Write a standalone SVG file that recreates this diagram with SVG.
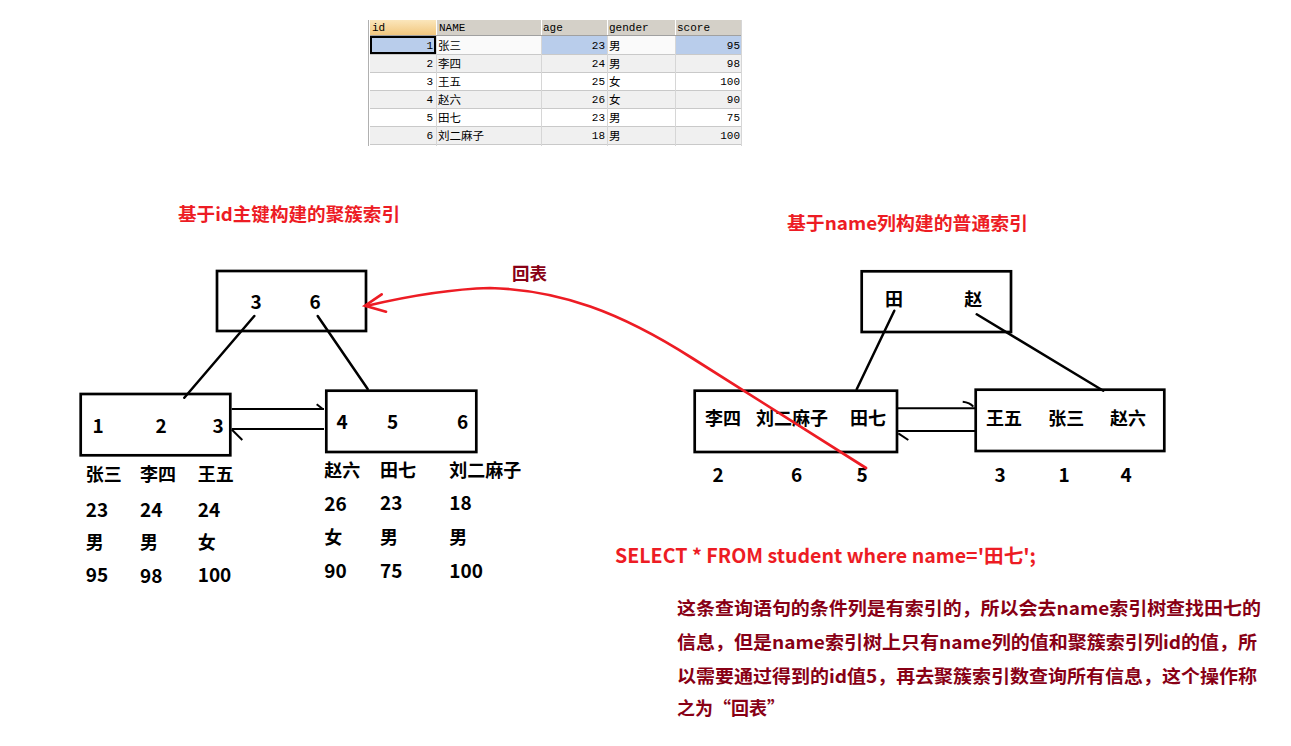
<svg xmlns="http://www.w3.org/2000/svg" width="1291" height="746" viewBox="0 0 1291 746">
<defs>
<linearGradient id="hdrSel" x1="0" y1="0" x2="0" y2="1">
<stop offset="0" stop-color="#fbe6bb"/>
<stop offset="1" stop-color="#f1c57a"/>
</linearGradient>
</defs>
<style>
.box{fill:none;stroke:#000;stroke-width:2.7}
.ln{stroke:#000;stroke-width:2.5;fill:none;stroke-linecap:round}
.ar{stroke:#000;stroke-width:2;fill:none}
.t{font-family:"Noto Sans CJK SC","Noto Sans",sans-serif;font-weight:700;font-size:18px;fill:#000}
.n{font-size:19px}
.red{fill:#ed1c24}
.dred{fill:#880015}
.rl{stroke:#ed1c24;stroke-width:2.7;fill:none;stroke-linecap:round}
.tb{font-family:"Liberation Mono","Noto Sans CJK SC",monospace;font-size:11px;fill:#000}
.tc{font-family:"Noto Sans CJK SC",sans-serif;font-size:11.5px;fill:#000}
.hd{fill:#d4d0c8}
.g{stroke:#c9c9c9;stroke-width:1}
.gv{stroke:#d6d6d6;stroke-width:1}
.alt{fill:#f0f0f0}
.sel{fill:#b9cdeb}
</style>
<rect width="1291" height="746" fill="#fff"/>

<g id="table">
<rect x="370" y="20" width="371" height="16" class="hd"/>
<rect x="370" y="20" width="66" height="16" fill="url(#hdrSel)"/>
<line x1="436.5" y1="20" x2="436.5" y2="36" stroke="#fff"/>
<line x1="541.5" y1="20" x2="541.5" y2="36" stroke="#fff"/>
<line x1="607.5" y1="20" x2="607.5" y2="36" stroke="#fff"/>
<line x1="675.5" y1="20" x2="675.5" y2="36" stroke="#fff"/>
<line x1="370" y1="35.5" x2="741" y2="35.5" stroke="#a0a0a0"/>
<rect x="370" y="36" width="371" height="18" fill="#fafafa"/>
<rect x="370" y="36" width="66" height="18" class="sel"/>
<rect x="541" y="36" width="66" height="18" class="sel"/>
<rect x="675" y="36" width="66" height="18" class="sel"/>
<rect x="370" y="54" width="371" height="18" class="alt"/>
<rect x="370" y="72" width="371" height="18" fill="#fff"/>
<rect x="370" y="90" width="371" height="18" class="alt"/>
<rect x="370" y="108" width="371" height="18" fill="#fff"/>
<rect x="370" y="126" width="371" height="18" class="alt"/>
<line x1="370" y1="54.5" x2="741" y2="54.5" class="g"/>
<line x1="370" y1="72.5" x2="741" y2="72.5" class="g"/>
<line x1="370" y1="90.5" x2="741" y2="90.5" class="g"/>
<line x1="370" y1="108.5" x2="741" y2="108.5" class="g"/>
<line x1="370" y1="126.5" x2="741" y2="126.5" class="g"/>
<line x1="370" y1="144.5" x2="741" y2="144.5" class="g"/>
<line x1="436.5" y1="36" x2="436.5" y2="146" class="gv"/>
<line x1="541.5" y1="36" x2="541.5" y2="146" class="gv"/>
<line x1="607.5" y1="36" x2="607.5" y2="146" class="gv"/>
<line x1="675.5" y1="36" x2="675.5" y2="146" class="gv"/>
<line x1="741.5" y1="20" x2="741.5" y2="146" class="gv"/>
<line x1="368.5" y1="20" x2="368.5" y2="146" stroke="#b0b0b0"/>
<rect x="371" y="37" width="64" height="16" fill="none" stroke="#000" stroke-width="2"/>
<text class="tb" x="372" y="31">id</text>
<text class="tb" x="439" y="31">NAME</text>
<text class="tb" x="543" y="31">age</text>
<text class="tb" x="609" y="31">gender</text>
<text class="tb" x="677" y="31">score</text>
<g text-anchor="end" class="tb">
<text x="433" y="49">1</text><text x="433" y="67">2</text><text x="433" y="85">3</text><text x="433" y="103">4</text><text x="433" y="121">5</text><text x="433" y="139">6</text>
<text x="605" y="49">23</text><text x="605" y="67">24</text><text x="605" y="85">25</text><text x="605" y="103">26</text><text x="605" y="121">23</text><text x="605" y="139">18</text>
<text x="740" y="49">95</text><text x="740" y="67">98</text><text x="740" y="85">100</text><text x="740" y="103">90</text><text x="740" y="121">75</text><text x="740" y="139">100</text>
</g>
<g class="tc">
<text x="438" y="49.5">张三</text><text x="438" y="67.5">李四</text><text x="438" y="85.5">王五</text><text x="438" y="103.5">赵六</text><text x="438" y="121.5">田七</text><text x="438" y="139.5">刘二麻子</text>
<text x="609" y="49.5">男</text><text x="609" y="67.5">男</text><text x="609" y="85.5">女</text><text x="609" y="103.5">女</text><text x="609" y="121.5">男</text><text x="609" y="139.5">男</text>
</g>
</g>

<g id="titles">
<text class="t red" x="178" y="221" textLength="222" lengthAdjust="spacingAndGlyphs">基于id主键构建的聚簇索引</text>
<text class="t red" x="787" y="230" textLength="241" lengthAdjust="spacingAndGlyphs">基于name列构建的普通索引</text>
</g>

<g id="l-root">
<rect class="box" x="217" y="271" width="149" height="60"/>
<text class="t n" x="256" y="308.5" text-anchor="middle">3</text>
<text class="t n" x="315" y="308.5" text-anchor="middle">6</text>
</g>
<g id="l-leaf1">
<rect class="box" x="80.7" y="394" width="149.6" height="61.3"/>
<text class="t n" x="98" y="432.5" text-anchor="middle">1</text>
<text class="t n" x="161" y="432.5" text-anchor="middle">2</text>
<text class="t n" x="218" y="432.5" text-anchor="middle">3</text>
<text class="t" x="85.7" y="481">张三</text><text class="t" x="140" y="481">李四</text><text class="t" x="197.7" y="481">王五</text>
<text class="t n" x="85.7" y="516.5">23</text><text class="t n" x="140" y="516.5">24</text><text class="t n" x="197.7" y="516.5">24</text>
<text class="t" x="85.7" y="549">男</text><text class="t" x="140" y="549">男</text><text class="t" x="197.7" y="549">女</text>
<text class="t n" x="85.7" y="582">95</text><text class="t n" x="140" y="583">98</text><text class="t n" x="197.7" y="582">100</text>
</g>
<g id="l-leaf2">
<rect class="box" x="326.3" y="390.7" width="150" height="61.3"/>
<text class="t n" x="342" y="428.5" text-anchor="middle">4</text>
<text class="t n" x="392.7" y="428.5" text-anchor="middle">5</text>
<text class="t n" x="462.7" y="428.5" text-anchor="middle">6</text>
<text class="t" x="324.3" y="476.5">赵六</text><text class="t" x="380" y="476.5">田七</text><text class="t" x="449.3" y="476.5">刘二麻子</text>
<text class="t n" x="324.3" y="510.5">26</text><text class="t n" x="380" y="510">23</text><text class="t n" x="449.3" y="510">18</text>
<text class="t" x="324.3" y="544">女</text><text class="t" x="380" y="544">男</text><text class="t" x="449.3" y="544">男</text>
<text class="t n" x="324.3" y="578">90</text><text class="t n" x="380" y="577.5">75</text><text class="t n" x="449.3" y="577.5">100</text>
</g>

<g id="r-root">
<rect class="box" x="861.7" y="271.3" width="149.3" height="60.7"/>
<text class="t" x="894" y="306" text-anchor="middle">田</text>
<text class="t" x="973.3" y="306" text-anchor="middle">赵</text>
</g>
<g id="r-leaf1">
<rect class="box" x="694.7" y="390.7" width="202.3" height="61.3"/>
<text class="t" x="705" y="425">李四</text>
<text class="t" x="756" y="425">刘二麻子</text>
<text class="t" x="850" y="425">田七</text>
<text class="t n" x="718" y="481.5" text-anchor="middle">2</text>
<text class="t n" x="796.7" y="481.5" text-anchor="middle">6</text>
<text class="t n" x="862" y="481.5" text-anchor="middle">5</text>
</g>
<g id="r-leaf2">
<rect class="box" x="975.7" y="389.7" width="188.6" height="61.3"/>
<text class="t" x="986" y="425">王五</text>
<text class="t" x="1048.3" y="425">张三</text>
<text class="t" x="1110" y="425">赵六</text>
<text class="t n" x="1000" y="481.5" text-anchor="middle">3</text>
<text class="t n" x="1064" y="481.5" text-anchor="middle">1</text>
<text class="t n" x="1126" y="481.5" text-anchor="middle">4</text>
</g>

<g id="connectors">
<line class="ln" x1="254.3" y1="316" x2="184.3" y2="397.7"/>
<line class="ln" x1="317.7" y1="316" x2="367.7" y2="389"/>
<line class="ar" x1="231.7" y1="409" x2="324" y2="409"/>
<path class="ar" d="M316.7 404.3 L322.7 409"/>
<line class="ar" x1="324" y1="429" x2="231.7" y2="429"/>
<path class="ar" d="M231.7 429.5 L242.3 440"/>
<line class="ln" x1="894.3" y1="310.7" x2="856.7" y2="389.3"/>
<line class="ln" x1="976.7" y1="314.3" x2="1103.3" y2="390.7"/>
<line class="ar" x1="898" y1="408.3" x2="975" y2="408.3"/>
<path class="ar" d="M962.7 401.7 Q970 402.5 973.3 406.7"/>
<line class="ar" x1="975" y1="431" x2="898" y2="431"/>
<path class="ar" d="M898.3 433.3 L908.3 440"/>
<path class="rl" d="M866 468 L692 358 C620 312 560 290 490 288 C450 289 400 298 366 306"/>
<path class="rl" d="M381.7 294.3 L365 305.7 L386 311.7"/>
</g>

<g id="label-huibiao">
<text class="t dred" x="512" y="280" style="font-size:17.5px">回表</text>
</g>

<g id="notes">
<text class="t red" x="615" y="563" style="font-size:19.5px" textLength="421" lengthAdjust="spacingAndGlyphs">SELECT * FROM student where name='田七';</text>
<text class="t dred" x="677" y="615" textLength="584" lengthAdjust="spacingAndGlyphs">这条查询语句的条件列是有索引的，所以会去name索引树查找田七的</text>
<text class="t dred" x="677" y="649" textLength="580" lengthAdjust="spacingAndGlyphs">信息，但是name索引树上只有name列的值和聚簇索引列id的值，所</text>
<text class="t dred" x="677" y="682.5" textLength="580" lengthAdjust="spacingAndGlyphs">以需要通过得到的id值5，再去聚簇索引数查询所有信息，这个操作称</text>
<text class="t dred" x="677" y="715">之为“回表”</text>
</g>
</svg>
